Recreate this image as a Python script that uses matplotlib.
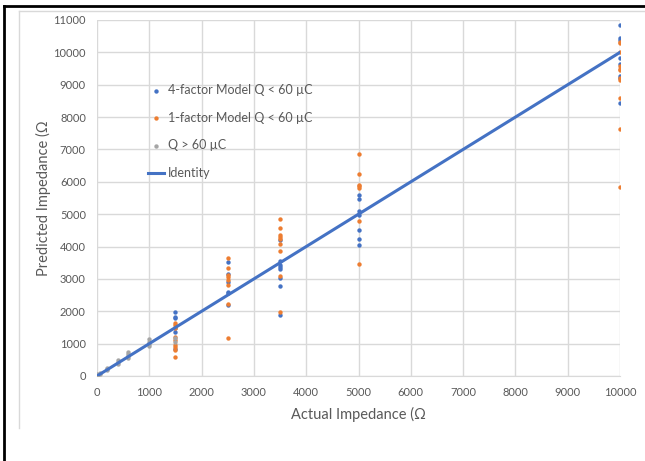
import numpy as np
import matplotlib.pyplot as plt
from matplotlib.lines import Line2D

plt.rcParams['font.family'] = ['Lato', 'DejaVu Sans']

# 4-factor model, Q < 60 uC
blue_x = [1500] * 6 + [2500] * 6 + [3500] * 8 + [5000] * 7 + [10000] * 8
blue_y = [1990, 1830, 1780, 1480, 1370, 830,
          3510, 3150, 2910, 2600, 2550, 2190,
          4200, 3560, 3430, 3380, 3300, 3040, 2780, 1870,
          5600, 5480, 5110, 4980, 4510, 4220, 4050,
          10850, 10430, 10390, 9820, 9630, 9270, 9220, 8430]

# 1-factor model, Q < 60 uC
orange_x = [1500] * 9 + [2500] * 8 + [3500] * 9 + [5000] * 7 + [10000] * 11
orange_y = [1640, 1570, 1470, 1210, 1100, 960, 900, 800, 590,
            3660, 3350, 3110, 3050, 2970, 2810, 2240, 1180,
            4860, 4560, 4360, 4290, 4230, 4080, 3860, 3090, 1980,
            6870, 6250, 5910, 5860, 5810, 4790, 3450,
            10320, 10290, 10010, 9580, 9500, 9450, 9200, 9160, 8600, 7620, 5840]

# Q > 60 uC
gray_x = [0, 0, 0, 50, 50, 200, 200, 200, 400, 400, 400,
          600, 600, 600, 600, 1000, 1000, 1000, 1000, 1500, 1500]
gray_y = [10, 40, 70, 60, 90, 180, 220, 260, 380, 430, 480,
          560, 620, 680, 740, 920, 990, 1060, 1130, 1060, 1160]

identity = [0, 10000]

c_blue = '#4472C4'
c_orange = '#ED7D31'
c_gray = '#A5A5A5'
c_text = '#595959'
c_grid = '#D9D9D9'

fig = plt.figure(figsize=(6.45, 4.61), dpi=100)
ax = fig.add_axes([97 / 645, 1 - 376 / 461, (620 - 97) / 645, (376 - 20) / 461])

ax.scatter(blue_x, blue_y, s=10, color=c_blue, linewidths=0, label='4-factor Model Q < 60 µC', zorder=3)
ax.scatter(orange_x, orange_y, s=10, color=c_orange, linewidths=0, label='1-factor Model Q < 60 µC', zorder=3)
ax.scatter(gray_x, gray_y, s=10, color=c_gray, linewidths=0, label='Q > 60 µC', zorder=3)
ax.plot(identity, identity, color=c_blue, linewidth=2.2, label='Identity', zorder=4)

ax.set_xlim(0, 10000)
ax.set_ylim(0, 11000)
ax.set_xticks(np.arange(0, 10001, 1000))
ax.set_yticks(np.arange(0, 11001, 1000))
ax.grid(True, color=c_grid, linewidth=1)
ax.set_axisbelow(True)
for side in ['top', 'right', 'left']:
    ax.spines[side].set_visible(False)
ax.spines['bottom'].set_color(c_grid)
ax.tick_params(length=0, labelsize=8, labelcolor=c_text, pad=8)

ax.set_xlabel('Actual Impedance (Ω', fontsize=10.5, color=c_text, labelpad=6)
ax.set_ylabel('Predicted Impedance (Ω', fontsize=10.5, color=c_text, labelpad=2)

ax.legend(loc='upper left', bbox_to_anchor=(0.085, 0.838), frameon=False,
          fontsize=9, labelcolor=c_text, labelspacing=1.26,
          handlelength=1.3, handletextpad=0.3, markerscale=1.0, borderpad=0)

# outer frames
fig.add_artist(Line2D([4 / 645, 1], [1 - 6 / 461, 1 - 6 / 461], color='black', linewidth=2))
fig.add_artist(Line2D([4 / 645, 4 / 645], [0, 1 - 6 / 461], color='black', linewidth=2))
fig.add_artist(Line2D([19 / 645, 1], [1 - 11 / 461, 1 - 11 / 461], color=c_grid, linewidth=1))
fig.add_artist(Line2D([19 / 645, 19 / 645], [1 - 428 / 461, 1 - 11 / 461], color=c_grid, linewidth=1))

fig.savefig('out.png', dpi=100)
